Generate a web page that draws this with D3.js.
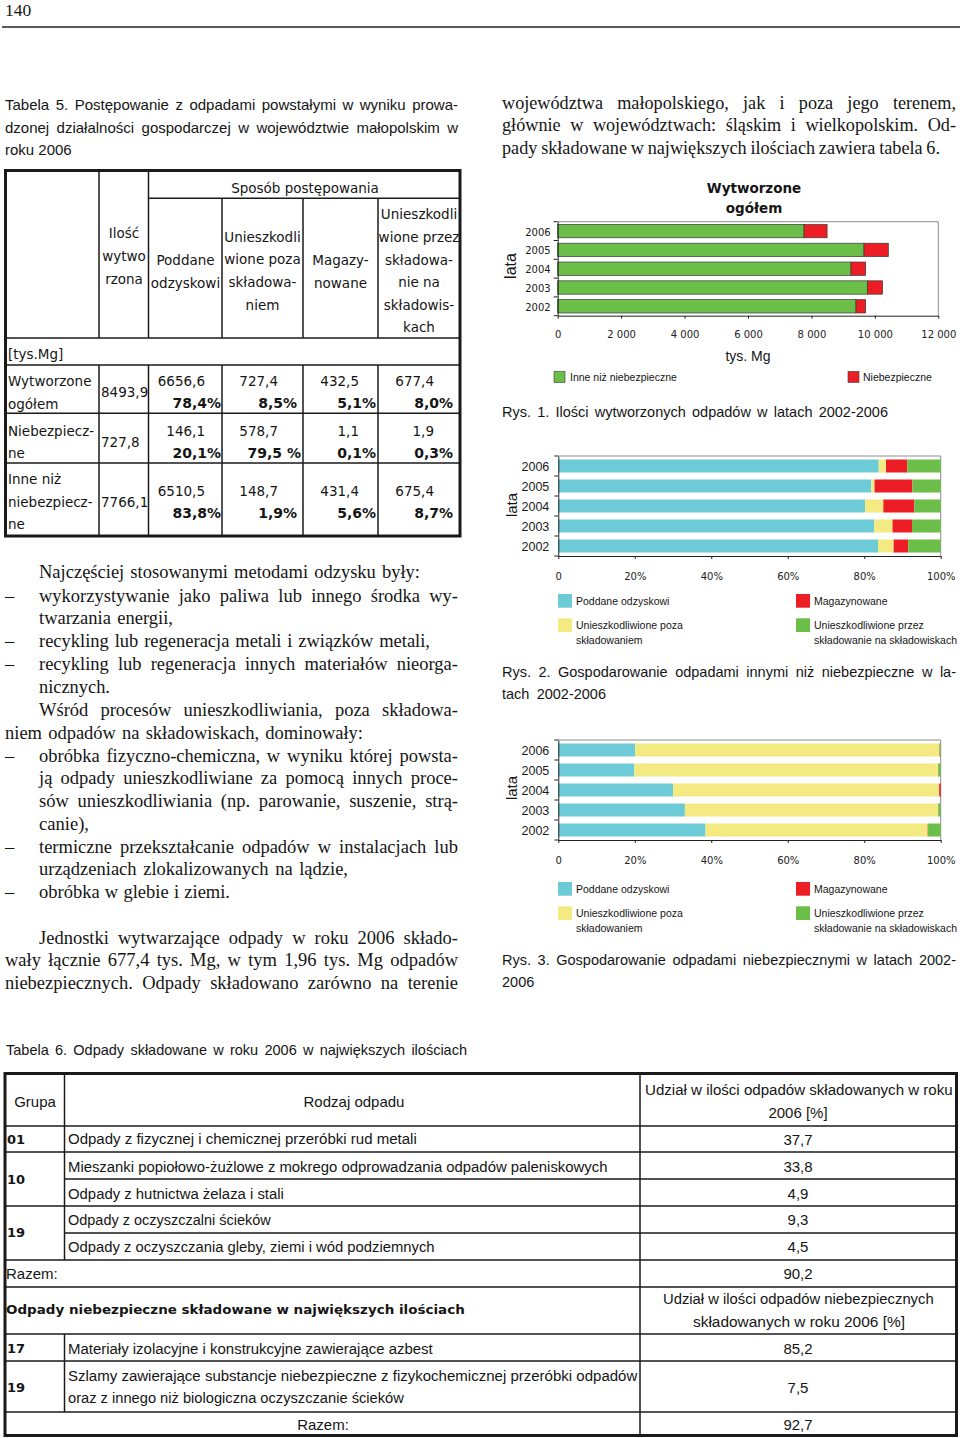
<!DOCTYPE html>
<html><head><meta charset="utf-8">
<script src="https://cdn.jsdelivr.net/npm/d3@7"></script>
<style>body{margin:0;background:#fff}svg{display:block}</style>
</head><body>
<script>
// ===================== DATA =====================
const years = ["2006", "2005", "2004", "2003", "2002"];

// Rys. 1 – Wytworzone ogółem [tys. Mg]
const generatedOther = [7766.1, 9657, 9247, 9772, 9405];
const generatedHazardous = [727.8, 767, 462, 473, 304];
const ticks1 = [0, 2000, 4000, 6000, 8000, 10000, 12000];
const tickLabels1 = ["0", "2 000", "4 000", "6 000", "8 000", "10 000", "12 000"];
const legend1 = ["Inne niż niebezpieczne", "Niebezpieczne"];

// Rys. 2 – inne niż niebezpieczne [%]
const otherRecovered = [83.8, 81.8, 80.2, 82.6, 83.6];
const otherNeutralised = [1.9, 0.9, 4.8, 4.8, 4.1];
const otherStored = [5.6, 9.9, 8.1, 5.1, 3.8];
const otherLandfilled = [8.7, 7.4, 6.9, 7.5, 8.5];

// Rys. 3 – niebezpieczne [%]
const hazRecovered = [20.1, 19.9, 30.0, 33.1, 38.5];
const hazNeutralised = [79.5, 79.4, 69.6, 66.2, 58.1];
const hazStored = [0.1, 0.1, 0.4, 0.1, 0.1];
const hazLandfilled = [0.3, 0.6, 0.0, 0.6, 3.3];

const pctTicks = [0, 20, 40, 60, 80, 100];
const pctTickLabels = ["0", "20%", "40%", "60%", "80%", "100%"];
const mgmtLegend = [["Poddane odzyskowi"], ["Unieszkodliwione poza", "składowaniem"],
                    ["Magazynowane"], ["Unieszkodliwione przez", "składowanie na składowiskach"]];

// Tabela 5
const t5Headers = [["Ilość", "wytwo", "rzona"], ["Poddane", "odzyskowi"],
  ["Unieszkodli", "wione poza", "składowa-", "niem"], ["Magazy-", "nowane"],
  ["Unieszkodli", "wione przez", "składowa-", "nie na", "składowis-", "kach"]];
const t5RowLabels = [["Wytworzone", "ogółem"], ["Niebezpiecz-", "ne"], ["Inne niż", "niebezpiecz-", "ne"]];
const t5Totals = ["8493,9", "727,8", "7766,1"];
const t5Amounts = [["6656,6", "727,4", "432,5", "677,4"], ["146,1", "578,7", "1,1", "1,9"], ["6510,5", "148,7", "431,4", "675,4"]];
const t5Shares = [["78,4%", "8,5%", "5,1%", "8,0%"], ["20,1%", "79,5 %", "0,1%", "0,3%"], ["83,8%", "1,9%", "5,6%", "8,7%"]];

// Tabela 6
const t6Groups = ["01", "10", "19"];
const t6Names = ["Odpady z fizycznej i chemicznej przeróbki rud metali",
  "Mieszanki popiołowo-żużlowe z mokrego odprowadzania odpadów paleniskowych",
  "Odpady z hutnictwa żelaza i stali",
  "Odpady z oczyszczalni ścieków",
  "Odpady z oczyszczania gleby, ziemi i wód podziemnych"];
const t6Shares = ["37,7", "33,8", "4,9", "9,3", "4,5"];
const t6Total = "90,2";
const t6HazGroups = ["17", "19"];
const t6HazNames = [["Materiały izolacyjne i konstrukcyjne zawierające azbest"],
  ["Szlamy zawierające substancje niebezpieczne z fizykochemicznej przeróbki odpadów", "oraz z innego niż biologiczna oczyszczanie ścieków"]];
const t6HazShares = ["85,2", "7,5"];
const t6HazTotal = "92,7";

// Texts
const rightTopText = ["województwa małopolskiego, jak i poza jego terenem,",
  "głównie w województwach: śląskim i wielkopolskim. Od-",
  "pady składowane w największych ilościach zawiera tabela 6."];
const leftBodyText = ["Najczęściej stosowanymi metodami odzysku były:",
  "wykorzystywanie jako paliwa lub innego środka wy-",
  "twarzania energii,",
  "recykling lub regeneracja metali i związków metali,",
  "recykling lub regeneracja innych materiałów nieorga-",
  "nicznych.",
  "Wśród procesów unieszkodliwiania, poza składowa-",
  "niem odpadów na składowiskach, dominowały:",
  "obróbka fizyczno-chemiczna, w wyniku której powsta-",
  "ją odpady unieszkodliwiane za pomocą innych proce-",
  "sów unieszkodliwiania (np. parowanie, suszenie, strą-",
  "canie),",
  "termiczne przekształcanie odpadów w instalacjach lub",
  "urządzeniach zlokalizowanych na lądzie,",
  "obróbka w glebie i ziemi.",
  "Jednostki wytwarzające odpady w roku 2006 składo-",
  "wały łącznie 677,4 tys. Mg, w tym 1,96 tys. Mg odpadów",
  "niebezpiecznych. Odpady składowano zarówno na terenie"];

// ===================== DRAWING =====================
const SANS = "'DejaVu Sans', Verdana, sans-serif";
const ARIAL = "'Liberation Sans', Arial, sans-serif";
const SERIF = "'Liberation Serif', 'Times New Roman', serif";
const INK = "#151515";

const svg = d3.select("body").append("svg").attr("width", 960).attr("height", 1438);
svg.append("rect").attr("width", 960).attr("height", 1438).attr("fill", "#fff");

function T(g, x, y, s, o = {}) {
  return g.append("text").attr("x", x).attr("y", y)
    .attr("dominant-baseline", "central")
    .attr("font-family", o.f || ARIAL).attr("font-size", o.s || 15)
    .attr("font-weight", o.w || "normal").attr("text-anchor", o.a || "start")
    .attr("fill", o.c || INK).text(s);
}
// justify between x0 and x1
function J(g, x0, x1, y, s, o = {}) {
  const words = s.split(" ");
  const grp = g.append("g");
  const nodes = words.map(w => T(grp, 0, y, w, o));
  const widths = nodes.map(n => n.node().getComputedTextLength());
  const total = d3.sum(widths);
  const minGap = o.minGap || 2.5;
  let gap = words.length > 1 ? (x1 - x0 - total) / (words.length - 1) : 0;
  let k = 1;
  if (words.length > 1 && gap < minGap) { gap = minGap; k = (x1 - x0) / (total + gap * (words.length - 1)); }
  if (words.length === 1) k = (x1 - x0) / total;
  let x = 0;
  nodes.forEach((n, i) => { n.attr("x", x); x += widths[i] + gap; });
  grp.attr("transform", `translate(${x0},0) scale(${k},1)`);
  return grp;
}
// fit text horizontally to a width
function F(g, x0, x1, y, s, o = {}) {
  const t = T(g, 0, y, s, o);
  const w = t.node().getComputedTextLength();
  t.attr("transform", `translate(${x0},0) scale(${(x1 - x0) / w},1)`);
  return t;
}
function L(g, x1, y1, x2, y2, w = 1.5, c = "#1a1a1a") {
  g.append("line").attr("x1", x1).attr("y1", y1).attr("x2", x2).attr("y2", y2)
    .attr("stroke", c).attr("stroke-width", w);
}

// ---------- page header ----------
T(svg, 5, 10, "140", { f: SERIF, s: 17.5 });
L(svg, 2, 27, 960, 27, 2, "#5a5a5a");

// ---------- Tabela 5 caption ----------
J(svg, 5, 458, 104, "Tabela 5. Postępowanie z odpadami powstałymi w wyniku prowa-", { s: 15 });
J(svg, 5, 458, 127, "dzonej działalności gospodarczej w województwie małopolskim w", { s: 15 });
T(svg, 5, 149, "roku 2006", { s: 15 });

// ---------- right top text ----------
const rtLayout = [[502, 956, 103], [502, 956, 125], [502, 940, 148]];
rightTopText.forEach((s, i) => J(svg, rtLayout[i][0], rtLayout[i][1], rtLayout[i][2], s, { f: SERIF, s: 18.2, minGap: 3.5 }));

// ---------- Tabela 5 ----------
const t5 = svg.append("g");
t5.append("rect").attr("x", 5.5).attr("y", 170.5).attr("width", 454.5).attr("height", 365.5)
  .attr("fill", "none").attr("stroke", "#1a1a1a").attr("stroke-width", 3);
L(t5, 148.5, 198.3, 460, 198.3);
[338, 365, 413.3, 463].forEach(yy => L(t5, 5.5, yy, 460, yy));
[99, 148.5].forEach(xx => { L(t5, xx, 170.5, xx, 338); L(t5, xx, 365, xx, 536); });
[222, 303, 378].forEach(xx => { L(t5, xx, 198.3, xx, 338); L(t5, xx, 365, xx, 536); });
T(t5, 305, 188, "Sposób postępowania", { f: SANS, s: 13.5, a: "middle" });
const hdrCx = [124, 185.5, 262.5, 340.5, 419];
const hdrY0 = [233.3, 260, 236.7, 260, 214.3];
t5Headers.forEach((lines, i) => lines.forEach((l, j) =>
  T(t5, hdrCx[i], hdrY0[i] + j * 22.6, l, { f: SANS, s: 13.5, a: "middle" })));
T(t5, 8, 354, "[tys.Mg]", { f: SANS, s: 13.5 });
const rowLabelY = [381, 430.7, 479.3];
const rowTotY = [392.3, 441.7, 501.7];
const rowAmtY = [381, 430.7, 490.7];
const rowShrY = [403.3, 452.7, 513.3];
const amtRight = [205, 278, 359, 434];
const shrRight = [221, 297, 376, 453];
t5RowLabels.forEach((lines, i) => lines.forEach((l, j) => T(t5, 8, rowLabelY[i] + j * 22.5, l, { f: SANS, s: 13.5 })));
t5Totals.forEach((v, i) => T(t5, 101, rowTotY[i], v, { f: SANS, s: 13.5 }));
t5Amounts.forEach((row, i) => row.forEach((v, j) => T(t5, amtRight[j], rowAmtY[i], v, { f: SANS, s: 13.5, a: "end" })));
t5Shares.forEach((row, i) => row.forEach((v, j) =>
  T(t5, shrRight[j] + (v.includes(" ") ? 4 : 0), rowShrY[i], v, { f: SANS, s: 14, w: "bold", a: "end" })));

// ---------- left body text ----------
const lbLayout = [ // x0, x1, y, dash
  [39, 420, 572, 0], [39, 458, 596, 1], [39, 173, 618, 0], [39, 430, 641, 1], [39, 458, 664, 1],
  [39, 110, 687, 0], [39, 458, 710, 0], [5, 363, 733, 0], [39, 458, 756, 1], [39, 458, 778, 0],
  [39, 458, 801, 0], [39, 89, 824, 0], [39, 458, 847, 1], [39, 348, 869, 0], [39, 230, 892, 1],
  [39, 458, 938, 0], [5, 458, 960, 0], [5, 458, 983, 0]];
leftBodyText.forEach((s, i) => {
  const [a, b, y, d] = lbLayout[i];
  J(svg, a, b, y, s, { f: SERIF, s: 18.5 });
  if (d) T(svg, 5, y, "–", { f: SERIF, s: 18.5 });
});

// ---------- charts ----------
const C = { green: "#6bbe47", red: "#ec1d25", cyan: "#6ccbd7", yellow: "#f3eb82" };

function drawChart(cfg) {
  const g = svg.append("g");
  const x = d3.scaleLinear().domain(cfg.domain).range([cfg.x0, cfg.x1]);
  const y = d3.scaleBand().domain(years).range([cfg.y0, cfg.y1]).paddingInner(cfg.pad).paddingOuter(cfg.pad / 2);
  const keys = cfg.series.map((s, j) => "k" + j);
  const rows = years.map((yr, i) => { const r = { year: yr }; cfg.series.forEach((s, j) => r["k" + j] = s[i]); return r; });
  const stacked = d3.stack().keys(keys)(rows);
  L(g, cfg.x0, cfg.y0, cfg.x1, cfg.y0, 1, "#8c8c8c");
  L(g, cfg.x1, cfg.y0, cfg.x1, cfg.y1, 1, "#8c8c8c");
  g.selectAll("g.s").data(stacked).join("g").attr("fill", (d, i) => cfg.colors[i])
    .selectAll("rect").data(d => d).join("rect")
    .attr("x", d => x(d[0])).attr("width", d => Math.max(0, x(d[1]) - x(d[0])))
    .attr("y", d => y(d.data.year)).attr("height", y.bandwidth())
    .attr("stroke", cfg.outline ? "#3a3a3a" : "none").attr("stroke-width", 0.7);
  const ax = g.append("g").attr("transform", `translate(0,${cfg.y1})`)
    .call(d3.axisBottom(x).tickValues(cfg.ticks).tickFormat((d, i) => cfg.tickLabels[i]).tickSize(3).tickSizeOuter(0));
  ax.select(".domain").attr("stroke", "#222");
  ax.selectAll(".tick line").attr("stroke", "#222");
  ax.selectAll("text").attr("y", cfg.tickOff).attr("dy", null).attr("dominant-baseline", "central")
    .attr("font-family", SANS).attr("font-size", 10).attr("fill", "#222");
  const ay = g.append("g").attr("transform", `translate(${cfg.x0},0)`)
    .call(d3.axisLeft(y).tickSize(0).tickPadding(cfg.yPad));
  ay.select(".domain").attr("stroke", "#222");
  ay.selectAll("text").attr("dy", null).attr("dominant-baseline", "central")
    .attr("transform", "translate(0,1)")
    .attr("font-family", cfg.yFont).attr("font-size", cfg.yFontSize).attr("fill", "#1a1a1a");
  const bounds = d3.range(years.length + 1).map(i => cfg.y0 + i * y.step());
  bounds.forEach(b => L(g, cfg.x0 - 4, b, cfg.x0, b, 1, "#222"));
  T(g, 0, 0, "lata", { s: cfg.lataSize, a: "middle" })
    .attr("transform", `translate(${cfg.lataX},${cfg.lataY}) rotate(-90)`);
  return g;
}

// Rys. 1
T(svg, 754, 188, "Wytworzone", { f: SANS, s: 13.5, w: "bold", a: "middle" });
T(svg, 754, 207.5, "ogółem", { f: SANS, s: 13.5, w: "bold", a: "middle" });
drawChart({ x0: 557.7, x1: 938.3, y0: 221.7, y1: 315.7, pad: 0.29, domain: [0, 12000],
  series: [generatedOther, generatedHazardous], colors: [C.green, C.red], outline: true,
  ticks: ticks1, tickLabels: tickLabels1, tickOff: 19.3, yPad: 7, yFont: SANS, yFontSize: 10,
  lataX: 510, lataY: 266, lataSize: 16 });
T(svg, 748, 356, "tys. Mg", { s: 14, a: "middle" });
[[554, 570], [848, 863]].forEach((p, i) => {
  svg.append("rect").attr("x", p[0]).attr("y", 371.5).attr("width", 11).attr("height", 11)
    .attr("fill", [C.green, C.red][i]).attr("stroke", "#3a3a3a").attr("stroke-width", 0.6);
  T(svg, p[1], 377, legend1[i], { s: 10.5 });
});
J(svg, 502, 888, 412, "Rys. 1. Ilości wytworzonych odpadów w latach 2002-2006", { s: 14.5 });

// Rys. 2 & Rys. 3
const mgmtColors = [C.cyan, C.yellow, C.red, C.green];
function mgmtLegendDraw(top) {
  const pos = [[558, 576, 0], [558, 576, 24.3], [796, 814, 0], [796, 814, 24.3]];
  mgmtLegend.forEach((lines, i) => {
    const [sx, tx, dy] = pos[i];
    svg.append("rect").attr("x", sx).attr("y", top + dy).attr("width", 14).attr("height", 13.7).attr("fill", mgmtColors[i]);
    lines.forEach((l, j) => T(svg, tx, top + dy + 6.5 + j * 15.3, l, { s: 10.5 }));
  });
}
drawChart({ x0: 558.3, x1: 940.7, y0: 456, y1: 556, pad: 0.35, domain: [0, 100],
  series: [otherRecovered, otherNeutralised, otherStored, otherLandfilled], colors: mgmtColors, outline: false,
  ticks: pctTicks, tickLabels: pctTickLabels, tickOff: 20.7, yPad: 9, yFont: ARIAL, yFontSize: 12.5,
  lataX: 511, lataY: 505, lataSize: 15 });
mgmtLegendDraw(594);
J(svg, 502, 956, 672, "Rys. 2. Gospodarowanie odpadami innymi niż niebezpieczne w la-", { s: 14.5 });
J(svg, 502, 606, 694, "tach 2002-2006", { s: 14.5 });

drawChart({ x0: 558.3, x1: 940.7, y0: 740, y1: 840, pad: 0.35, domain: [0, 100],
  series: [hazRecovered, hazNeutralised, hazStored, hazLandfilled], colors: mgmtColors, outline: false,
  ticks: pctTicks, tickLabels: pctTickLabels, tickOff: 20, yPad: 9, yFont: ARIAL, yFontSize: 12.5,
  lataX: 511, lataY: 788, lataSize: 15 });
mgmtLegendDraw(882);
J(svg, 502, 956, 960, "Rys. 3. Gospodarowanie odpadami niebezpiecznymi w latach 2002-", { s: 14.5 });
T(svg, 502, 982, "2006", { s: 14.5 });

// ---------- Tabela 6 ----------
J(svg, 6, 467, 1050, "Tabela 6. Odpady składowane  w roku 2006 w największych ilościach".replace("  ", " "), { s: 14.5 });
const t6 = svg.append("g");
t6.append("rect").attr("x", 5).attr("y", 1073.5).attr("width", 951.5).attr("height", 362)
  .attr("fill", "none").attr("stroke", "#1a1a1a").attr("stroke-width", 3);
[1126, 1152, 1206, 1260, 1287, 1334, 1361, 1412].forEach(yy => L(t6, 5, yy, 956.5, yy));
[1179, 1233].forEach(yy => L(t6, 64.5, yy, 956.5, yy));
L(t6, 64.5, 1073.5, 64.5, 1260); L(t6, 64.5, 1334, 64.5, 1412);
L(t6, 640, 1073.5, 640, 1435.5);
const s6 = { s: 15 };
T(t6, 35, 1101, "Grupa", { s: 15, a: "middle" });
T(t6, 354, 1101, "Rodzaj odpadu", { s: 15, a: "middle" });
F(t6, 645, 953, 1090, "Udział w ilości odpadów składowanych w roku", s6);
T(t6, 798, 1112, "2006 [%]", { s: 15, a: "middle" });
const t6GroupY = [1139, 1179, 1232.5];
t6Groups.forEach((gname, i) => T(t6, 7, t6GroupY[i], gname, { f: SANS, s: 13, w: "bold" }));
const t6RowY = [1139, 1166, 1193, 1219.5, 1246.5];
const t6NameEnd = [417, 608, 284, 271, 435];
t6Names.forEach((n, i) => F(t6, 68, t6NameEnd[i], t6RowY[i], n, s6));
t6Shares.forEach((v, i) => T(t6, 798, t6RowY[i], v, { s: 15, a: "middle" }));
T(t6, 6, 1273.5, "Razem:", s6);
T(t6, 798, 1273.5, t6Total, { s: 15, a: "middle" });
F(t6, 6, 465, 1310, "Odpady niebezpieczne składowane w największych ilościach", { f: SANS, s: 13, w: "bold" });
F(t6, 663, 934, 1299, "Udział w ilości odpadów niebezpiecznych", s6);
F(t6, 693, 905, 1322, "składowanych w roku 2006 [%]", s6);
const hazGroupY = [1348, 1387];
const hazLineY = [[1348], [1376, 1398]];
const hazLineEnd = [[433], [638, 404]];
t6HazGroups.forEach((gname, i) => T(t6, 7, hazGroupY[i], gname, { f: SANS, s: 13, w: "bold" }));
t6HazNames.forEach((lines, i) => lines.forEach((l, j) => F(t6, 68, hazLineEnd[i][j], hazLineY[i][j], l, s6)));
t6HazShares.forEach((v, i) => T(t6, 798, hazGroupY[i], v, { s: 15, a: "middle" }));
T(t6, 323, 1424.5, "Razem:", { s: 15, a: "middle" });
T(t6, 798, 1424.5, t6HazTotal, { s: 15, a: "middle" });
</script>
</body></html>
